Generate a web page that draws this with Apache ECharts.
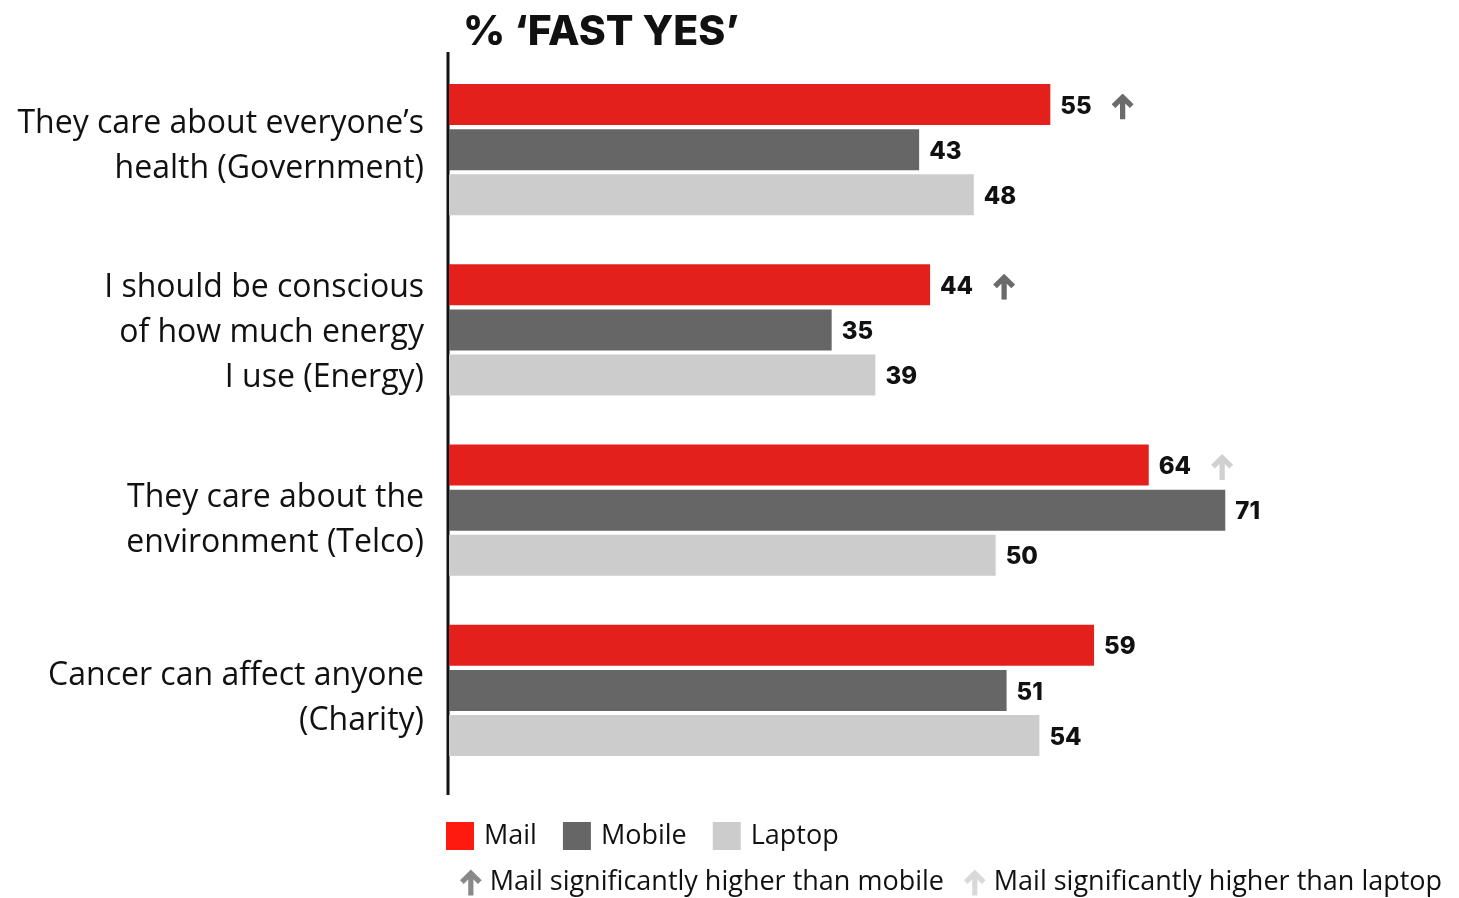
<!DOCTYPE html>
<html>
<head>
<meta charset="utf-8">
<script src="https://cdn.jsdelivr.net/npm/echarts@6/dist/echarts.min.js"></script>
<style>
  html, body { margin: 0; padding: 0; background: #fff; }
  #chart { width: 1459px; height: 898px; }
</style>
</head>
<body>
<div id="chart"></div>
<script>
// Statements asked about, and share of "fast yes" answers per device
const categories = [
  'They care about everyone\u2019s\nhealth (Government)',
  'I should be conscious\nof how much energy\nI use (Energy)',
  'They care about the\nenvironment (Telco)',
  'Cancer can affect anyone\n(Charity)'
];
const mailValues   = [55, 44, 64, 59];
const mobileValues = [43, 35, 71, 51];
const laptopValues = [48, 39, 50, 54];

// Significance flags for the Mail bar
const mailAboveMobile = [true, true, false, false];
const mailAboveLaptop = [false, false, true, false];

const legendMobileSig = 'Mail significantly higher than mobile';
const legendLaptopSig = 'Mail significantly higher than laptop';

const RED = '#e3201b', DARK = '#666666', LIGHT = '#cccccc';
const ARROW_DARK = '#6b6b6b', ARROW_LIGHT = '#d0d0d0';

// extra space above / below each category label block, in px
const labelPadTop    = [0, 6, 20, 17];
const labelPadBottom = [6, 0, 0, 0];

// Chevron-headed arrow used in the labels and the legend
const arrowPath = 'M10 0 L20 10 L16.6 13.4 L12.4 9.2 L12.4 24 L7.6 24 L7.6 9.2 L3.4 13.4 L0 10 Z';
function arrowImage(color) {
  const svg = '<svg xmlns="http://www.w3.org/2000/svg" width="20" height="24" viewBox="0 0 20 24">' +
    '<path d="' + arrowPath + '" fill="' + color + '"/></svg>';
  return 'data:image/svg+xml;charset=utf-8,' + encodeURIComponent(svg);
}

const valueFont = { fontFamily: 'Inter', fontWeight: 800, fontSize: 24, color: '#111111' };

// rich-text spacer styles for the category labels
const labelRich = {
  t: { fontFamily: 'Open Sans', fontSize: 32, lineHeight: 45, color: '#111111', align: 'right' }
};
[...new Set(labelPadTop.concat(labelPadBottom))].filter(v => v > 0).forEach(v => {
  labelRich['p' + v] = { height: v, lineHeight: v, fontSize: 1 };
});

const chart = echarts.init(document.getElementById('chart'));

chart.setOption({
  animation: false,
  backgroundColor: '#ffffff',
  title: {
    text: '% \u2018FAST YES\u2019',
    left: 458,
    top: 7,
    textStyle: { fontFamily: 'Inter', fontWeight: 800, fontSize: 41, color: '#111111' }
  },
  grid: { left: 449, right: 26, top: 59.5, bottom: 117.5, containLabel: false },
  xAxis: {
    type: 'value', min: 0, max: 90, show: false
  },
  yAxis: {
    type: 'category',
    data: categories,
    inverse: true,
    axisLine: { show: false },
    axisTick: { show: false },
    axisLabel: {
      margin: 25,
      align: 'right',
      formatter: function (value, index) {
        const lines = value.split('\n').map(l => '{t|' + l + '}');
        if (labelPadTop[index] > 0) lines.unshift('{p' + labelPadTop[index] + '|}');
        if (labelPadBottom[index] > 0) lines.push('{p' + labelPadBottom[index] + '|}');
        return lines.join('\n');
      },
      rich: labelRich
    }
  },
  legend: [
    {
      data: [
        { name: 'Mail', itemStyle: { color: '#ff1a10' } },
        { name: 'Mobile', itemStyle: { color: DARK } },
        { name: 'Laptop', itemStyle: { color: LIGHT } }
      ],
      left: 446,
      top: 822,
      padding: 0,
      icon: 'rect',
      itemWidth: 28,
      itemHeight: 28,
      itemGap: 26,
      selectedMode: false,
      textStyle: { fontFamily: 'Open Sans', fontSize: 27, color: '#111111', padding: [0, 0, 0, 5] }
    },
    {
      data: [
        { name: legendMobileSig, icon: 'path://' + arrowPath },
        { name: legendLaptopSig, icon: 'path://' + arrowPath }
      ],
      left: 460,
      top: 869,
      padding: 0,
      itemWidth: 22,
      itemHeight: 26,
      itemGap: 20,
      selectedMode: false,
      textStyle: { fontFamily: 'Open Sans', fontSize: 27, color: '#111111', padding: [0, 0, 0, 3] }
    }
  ],
  graphic: [
    {
      type: 'line',
      shape: { x1: 448, y1: 52, x2: 448, y2: 795 },
      style: { stroke: '#111111', lineWidth: 3 },
      silent: true
    }
  ],
  series: [
    {
      name: 'Mail', type: 'bar', data: mailValues,
      barWidth: 41, barGap: '10%',
      itemStyle: { color: RED },
      label: {
        show: true, position: 'right', distance: 10, offset: [0, 2],
        formatter: function (p) {
          let s = '{v|' + p.value + '}';
          if (mailAboveMobile[p.dataIndex]) s += '{sp|}{m|}';
          if (mailAboveLaptop[p.dataIndex]) s += '{sp|}{l|}';
          return s;
        },
        rich: {
          v: valueFont,
          sp: { width: 20 },
          m: { width: 22, height: 26, backgroundColor: { image: arrowImage(ARROW_DARK) } },
          l: { width: 22, height: 26, backgroundColor: { image: arrowImage(ARROW_LIGHT) } }
        }
      }
    },
    {
      name: 'Mobile', type: 'bar', data: mobileValues,
      barWidth: 41, barGap: '10%',
      itemStyle: { color: DARK },
      label: { show: true, position: 'right', distance: 10, offset: [0, 2], ...valueFont }
    },
    {
      name: 'Laptop', type: 'bar', data: laptopValues,
      barWidth: 41, barGap: '10%',
      itemStyle: { color: LIGHT },
      label: { show: true, position: 'right', distance: 10, offset: [0, 2], ...valueFont }
    },
    // legend-only entries for the significance arrows
    { name: legendMobileSig, type: 'scatter', data: [], itemStyle: { color: ARROW_DARK } },
    { name: legendLaptopSig, type: 'scatter', data: [], itemStyle: { color: ARROW_LIGHT } }
  ]
});
</script>
</body>
</html>
